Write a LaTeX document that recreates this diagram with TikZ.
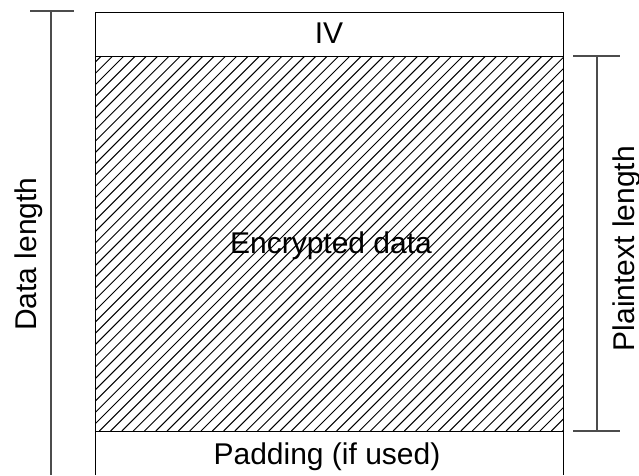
\documentclass[tikz,border=0pt]{standalone}
\usepackage{fontspec}
\setmainfont{Liberation Sans}
\begin{document}
\begin{tikzpicture}[x=1pt,y=-1pt,
  frame/.style={draw=black,line width=1pt},
  hatchline/.style={draw=black,line width=1pt},
  dimline/.style={draw=black!70,line width=1.1pt},
  lbl/.style={font=\fontsize{30}{36}\selectfont,inner sep=0pt,anchor=base}]
\useasboundingbox (0,0) rectangle (639,475);

% corners of the record
\coordinate (tl) at (95,12);
\coordinate (tr) at (563,12);
\coordinate (ml) at (95,56);
\coordinate (mr) at (563,56);
\coordinate (pl) at (95,431);
\coordinate (pr) at (563,431);
\coordinate (bl) at (95,475);
\coordinate (br) at (563,475);

% diagonal hatching of the encrypted part
\begin{scope}
  \clip (ml) rectangle (pr);
  \foreach \k in {-3,...,75}
    \draw[hatchline] (112.7+11.3*\k-375,431) -- (112.7+11.3*\k,56);
\end{scope}

% outline and separators
\draw[frame] (bl) -- (tl) -- (tr) -- (br);
\draw[frame] (ml) -- (mr);
\draw[frame] (pl) -- (pr);

% field labels
\node[lbl] (iv) at (329,43) {IV};
\node[lbl] (enc) at (331,253) {Encrypted data};
\node[lbl] (pad) at (327,464) {Padding (if used)};

% data length dimension
\coordinate (dl1) at (30,11);
\coordinate (dl2) at (74,11);
\coordinate (dtop) at (51,11);
\coordinate (dbot) at (51,475);
\draw[dimline] (dl1) -- (dl2);
\draw[dimline] (dtop) -- (dbot);
\node[lbl,rotate=90] (dlen) at (36,254) {Data length};

% plaintext length dimension
\coordinate (pt1) at (573,56);
\coordinate (pt2) at (620,56);
\coordinate (pb1) at (573,431);
\coordinate (pb2) at (620,431);
\coordinate (ptop) at (597,56);
\coordinate (pbot) at (597,431);
\draw[dimline] (pt1) -- (pt2);
\draw[dimline] (pb1) -- (pb2);
\draw[dimline] (ptop) -- (pbot);
\node[lbl,rotate=90] (plen) at (634,248.5) {Plaintext length};
\end{tikzpicture}
\end{document}
